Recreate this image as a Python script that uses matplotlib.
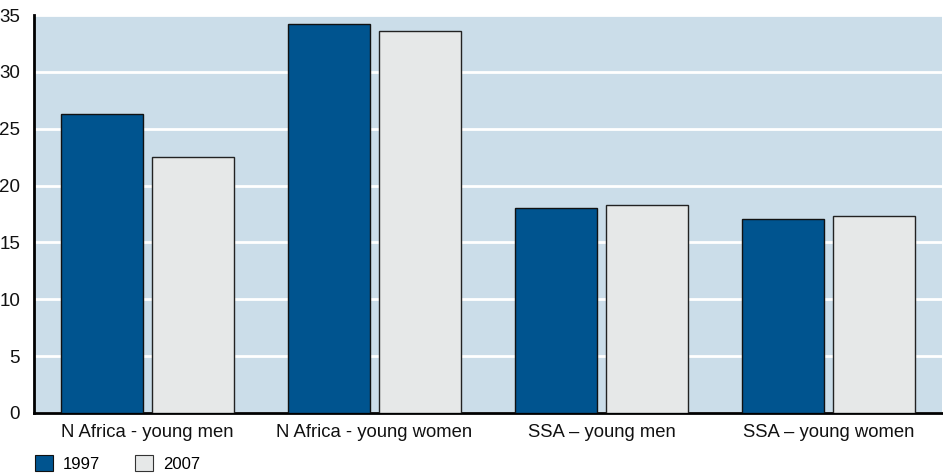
import numpy as np
import matplotlib
matplotlib.use("Agg")
import matplotlib.pyplot as plt
from matplotlib.patches import Patch

# ----------------------------------------
# DATA
# ----------------------------------------
categories = ["N Africa - young men", "N Africa - young women",
              "SSA \u2013 young men", "SSA \u2013 young women"]
values_1997 = [26.3, 34.2, 18.0, 17.1]
values_2007 = [22.5, 33.6, 18.3, 17.3]
series_labels = ["1997", "2007"]
yticks = [0, 5, 10, 15, 20, 25, 30, 35]

blue = "#00548f"
grey = "#e6e8e8"
bg = "#cbdde9"

plt.rcParams["font.family"] = ["Liberation Sans", "DejaVu Sans"]

fig = plt.figure(figsize=(9.43, 4.73), dpi=100)
ax = fig.add_axes([0.036, 0.127, 0.963, 0.841])
ax.set_facecolor(bg)

x = np.arange(len(categories))
w = 0.36
ax.bar(x - 0.2, values_1997, w, color=blue, edgecolor="#111111", linewidth=1, zorder=3)
ax.bar(x + 0.2, values_2007, w, color=grey, edgecolor="#222222", linewidth=1, zorder=3)

ax.set_xlim(-0.5, 3.5)
ax.set_ylim(0, 35)
ax.set_yticks(yticks)
ax.set_xticks(x)
ax.set_xticklabels(categories, fontsize=13.3)
ax.tick_params(axis="both", length=0, colors="#111111")
ax.tick_params(axis="y", pad=10, labelsize=13.5)
ax.tick_params(axis="x", pad=8)

# white horizontal gridlines behind the bars
ax.yaxis.grid(True, color="white", linewidth=2, zorder=1)
ax.set_axisbelow(True)

for s in ["top", "right"]:
    ax.spines[s].set_visible(False)
ax.spines["left"].set_linewidth(2)
ax.spines["bottom"].set_linewidth(2)

handles = [Patch(facecolor=blue, edgecolor="#111111", linewidth=0.8),
           Patch(facecolor=grey, edgecolor="#333333", linewidth=0.8)]
fig.legend(handles, series_labels, loc="lower left", bbox_to_anchor=(0.0371, 0.002),
           bbox_transform=fig.transFigure, borderaxespad=0, borderpad=0,
           ncol=2, frameon=False, fontsize=12, handlelength=1.08, handleheight=1.08,
           columnspacing=2.1, handletextpad=0.6)

fig.savefig("out.png", dpi=100)
